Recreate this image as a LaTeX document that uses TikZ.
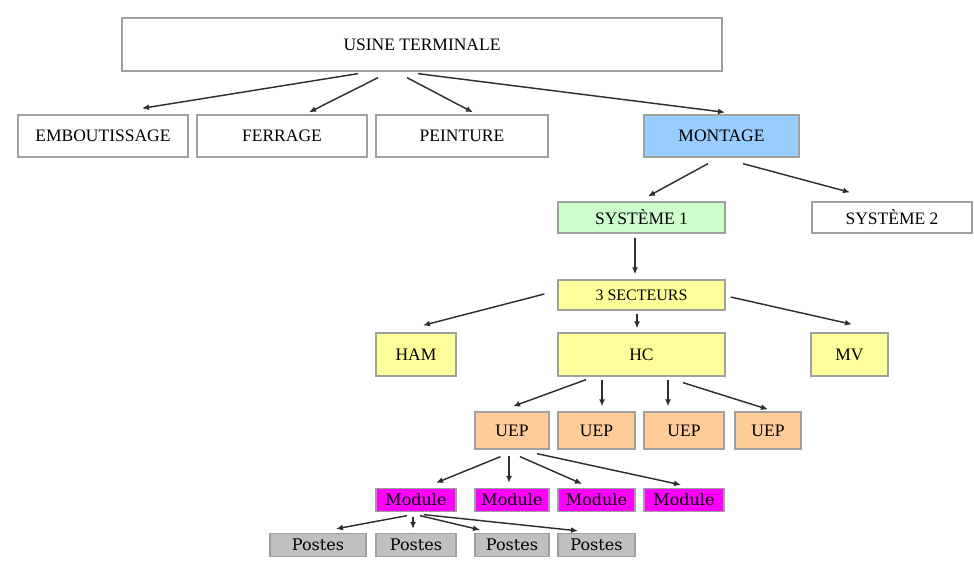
\documentclass[tikz,border=0pt]{standalone}
\usepackage{fontspec}
\setmainfont{Liberation Serif}
\newfontfamily\smallserif{DejaVu Serif}
\usetikzlibrary{arrows.meta}
\definecolor{bordergray}{HTML}{A0A0A0}
\definecolor{linegray}{HTML}{2E2E2E}
\definecolor{montblue}{HTML}{99CCFF}
\definecolor{sysgreen}{HTML}{CCFFCC}
\definecolor{secyellow}{HTML}{FFFF99}
\definecolor{ueporange}{HTML}{FFCC99}
\definecolor{modmagenta}{HTML}{FF00FF}
\definecolor{postgray}{HTML}{C0C0C0}
\tikzset{
  boxnode/.style={draw=bordergray, line width=1.3pt, rectangle, inner sep=0pt, anchor=center,
    font=\fontsize{17.5}{20}\selectfont, text=black},
  smallbox/.style={boxnode, font=\smallserif\fontsize{16}{17}\selectfont},
  conn/.style={draw=linegray, line width=1.45pt, -{Latex[length=7pt,width=6pt]}},
}
\begin{document}
\begin{tikzpicture}[x=1pt,y=-1pt]
\useasboundingbox (0,0) rectangle (974,577);
% level 0
\node[boxnode, minimum width=600pt, minimum height=53pt] (usine) at (422,44.5) {USINE TERMINALE};
% level 1
\node[boxnode, minimum width=170pt, minimum height=42pt] (embout) at (103,136) {EMBOUTISSAGE};
\node[boxnode, minimum width=170pt, minimum height=42pt] (ferrage) at (282,136) {FERRAGE};
\node[boxnode, minimum width=172pt, minimum height=42pt] (peinture) at (462,136) {PEINTURE};
\node[boxnode, fill=montblue, minimum width=155pt, minimum height=42pt] (montage) at (721.5,136) {MONTAGE};
% level 2
\node[boxnode, fill=sysgreen, minimum width=167pt, minimum height=31pt] (sys1) at (641.5,217.5) {SYSTÈME 1};
\node[boxnode, minimum width=160pt, minimum height=31pt] (sys2) at (892,217.5) {SYSTÈME 2};
% level 3
\node[boxnode, fill=secyellow, minimum width=167pt, minimum height=30pt, font=\fontsize{16}{18}\selectfont] (sect) at (641.5,295) {3 SECTEURS};
% level 4
\node[boxnode, fill=secyellow, minimum width=80pt, minimum height=43pt] (ham) at (416,354.5) {HAM};
\node[boxnode, fill=secyellow, minimum width=167pt, minimum height=43pt] (hc) at (641.5,354.5) {HC};
\node[boxnode, fill=secyellow, minimum width=77pt, minimum height=43pt] (mv) at (849.5,354.5) {MV};
% level 5
\node[boxnode, fill=ueporange, minimum width=74pt, minimum height=37pt] (u1) at (512,430.5) {UEP};
\node[boxnode, fill=ueporange, minimum width=77pt, minimum height=37pt] (u2) at (596.5,430.5) {UEP};
\node[boxnode, fill=ueporange, minimum width=80pt, minimum height=37pt] (u3) at (684,430.5) {UEP};
\node[boxnode, fill=ueporange, minimum width=66pt, minimum height=37pt] (u4) at (768,430.5) {UEP};
% level 6
\node[smallbox, fill=modmagenta, minimum width=80pt, minimum height=23pt] (m1) at (416,500) {Module};
\node[smallbox, fill=modmagenta, minimum width=74pt, minimum height=23pt] (m2) at (512,500) {Module};
\node[smallbox, fill=modmagenta, minimum width=77pt, minimum height=23pt] (m3) at (596.5,500) {Module};
\node[smallbox, fill=modmagenta, minimum width=80pt, minimum height=23pt] (m4) at (684,500) {Module};
% level 7
\node[smallbox, fill=postgray, minimum width=96pt, minimum height=23pt] (p1) at (318,545) {Postes};
\node[smallbox, fill=postgray, minimum width=80pt, minimum height=23pt] (p2) at (416,545) {Postes};
\node[smallbox, fill=postgray, minimum width=74pt, minimum height=23pt] (p3) at (512,545) {Postes};
\node[smallbox, fill=postgray, minimum width=77pt, minimum height=23pt] (p4) at (596.5,545) {Postes};
% connectors
\draw[conn] ([xshift=-64pt,yshift=-2pt]usine.south) -- ([xshift=39pt,yshift=6pt]embout.north);
\draw[conn] ([xshift=-44pt,yshift=-6pt]usine.south) -- ([xshift=27pt,yshift=2pt]ferrage.north);
\draw[conn] ([xshift=-15pt,yshift=-6pt]usine.south) -- ([xshift=11pt,yshift=2pt]peinture.north);
\draw[conn] ([xshift=-4pt,yshift=-2pt]usine.south) -- ([xshift=3.5pt,yshift=2pt]montage.north);
\draw[conn] ([xshift=-13.5pt,yshift=-6pt]montage.south) -- ([xshift=6.5pt,yshift=5pt]sys1.north);
\draw[conn] ([xshift=21.5pt,yshift=-6pt]montage.south) -- ([xshift=-42pt,yshift=9pt]sys2.north);
\draw[conn] ([xshift=-6.5pt,yshift=-4pt]sys1.south) -- ([xshift=-6.5pt,yshift=5pt]sect.north);
\draw[conn] ([xshift=-13pt,yshift=1pt]sect.west) -- ([xshift=7pt,yshift=7pt]ham.north);
\draw[conn] ([xshift=-4.5pt,yshift=-3pt]sect.south) -- ([xshift=-4.5pt,yshift=4pt]hc.north);
\draw[conn] ([xshift=5pt,yshift=-2pt]sect.east) -- ([xshift=2.5pt,yshift=8pt]mv.north);
\draw[conn] ([xshift=-55.5pt,yshift=-3pt]hc.south) -- ([xshift=1pt,yshift=5pt]u1.north);
\draw[conn] ([xshift=-39.5pt,yshift=-3pt]hc.south) -- ([xshift=5.5pt,yshift=5pt]u2.north);
\draw[conn] ([xshift=26.5pt,yshift=-3pt]hc.south) -- ([xshift=-16pt,yshift=5pt]u3.north);
\draw[conn] ([xshift=41.5pt,yshift=-6pt]hc.south) -- ([xshift=0pt,yshift=2pt]u4.north);
\draw[conn] ([xshift=-11.5pt,yshift=-7pt]u1.south) -- ([xshift=20pt,yshift=5pt]m1.north);
\draw[conn] ([xshift=-3pt,yshift=-6pt]u1.south) -- ([xshift=-3pt,yshift=5pt]m2.north);
\draw[conn] ([xshift=8pt,yshift=-7pt]u1.south) -- ([xshift=-14.5pt,yshift=4pt]m3.north);
\draw[conn] ([xshift=25pt,yshift=-4pt]u1.south) -- ([xshift=-3pt,yshift=3pt]m4.north);
\draw[conn] ([xshift=-9pt,yshift=-3.5pt]m1.south) -- ([xshift=18pt,yshift=4pt]p1.north);
\draw[conn] ([xshift=-3pt,yshift=-4.5pt]m1.south) -- ([xshift=-3pt,yshift=4pt]p2.north);
\draw[conn] ([xshift=4pt,yshift=-3.5pt]m1.south) -- ([xshift=-32pt,yshift=3pt]p3.north);
\draw[conn] ([xshift=8pt,yshift=-2.5pt]m1.south) -- ([xshift=-18.5pt,yshift=2pt]p4.north);
\end{tikzpicture}
\end{document}
